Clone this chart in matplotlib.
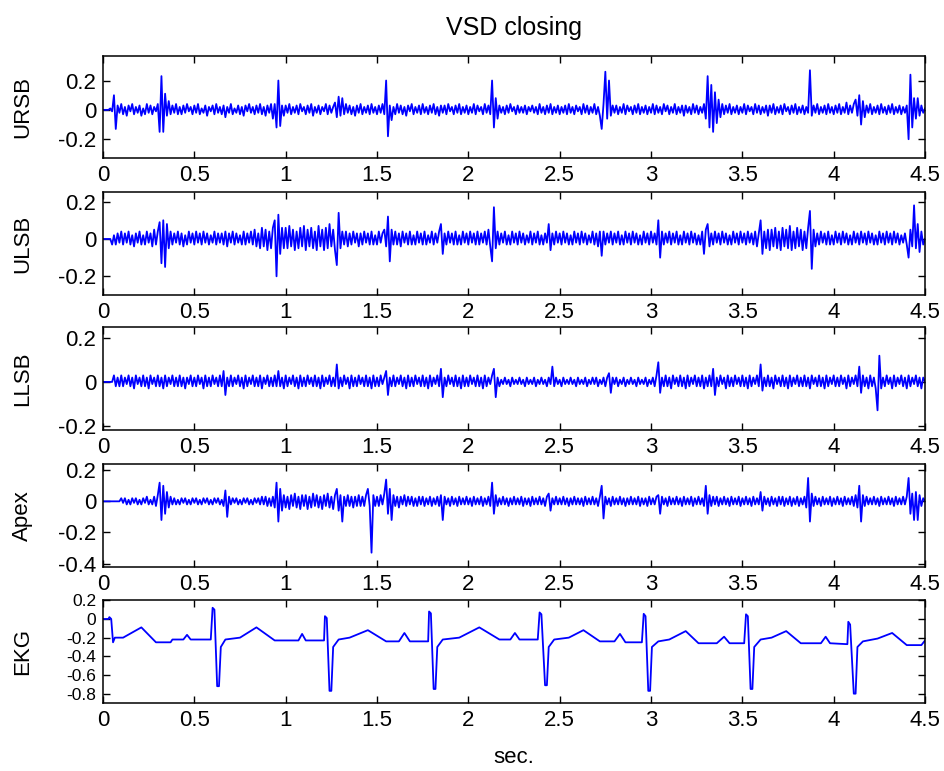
import numpy as np
import matplotlib
matplotlib.use("Agg")
import matplotlib.pyplot as plt
from matplotlib.ticker import FuncFormatter

plt.rcParams['font.family'] = ['Liberation Sans', 'DejaVu Sans']
plt.rcParams['axes.unicode_minus'] = False

# Heart-sound channels, one stored sample every 10 ms (values in hundredths)
SAMPLE_STEP = 0.01

ursb_centi = [
    0, 0, 0, 0, 1, -1, 10, -13, 3, -2, 4, -3, 2, -4, 3, -1, 4, -3, 2, -2, 3, -4, 1, -3, 4, -2, 3, -3, 2, -1, 4, -15, 23, -15, 11, -4, 6, -3, 3, -2, 4, -3, 2, -3, 3, -2, 4, -1, 2, -3,
    3, -2, 4, -3, 1, -2, 3, -4, 2, -1, 3, -3, 4, -2, 2, -3, 3, -5, 2, -2, 4, -3, 1, -2, 3, -3, 2, -4, 3, -1, 4, -2, 2, -3, 3, -2, 4, -3, 2, -4, 3, -2, 4, -6, 4, -12, 20, -11, 3, -4,
    3, -2, 4, -3, 2, -2, 3, -3, 4, -1, 2, -3, 3, -2, 4, -4, 2, -2, 3, -3, 2, -1, 4, -3, 3, -2, 2, 5, -5, 9, -4, 8, -3, 4, -2, 3, -3, 2, -4, 3, -2, 4, -3, 2, -2, 3, -3, 4, -2, 2,
    -3, 3, -2, 4, -3, 20, -18, 3, -7, 2, -3, 4, -2, 3, -3, 2, -4, 3, -1, 4, -3, 2, -2, 3, -3, 4, -2, 2, -3, 3, -2, 4, -3, 2, -4, 3, -2, 3, -3, 4, -1, 2, -3, 3, -2, 4, -3, 2, -2, 3,
    -3, 2, -2, 4, -3, 3, -1, 2, -3, 4, -2, 3, -3, 20, -12, 8, -6, 3, -2, 2, -3, 3, -2, 4, -1, 2, -3, 3, -2, 2, -2, 3, -3, 2, -1, 3, -2, 2, -3, 4, -2, 2, -3, 3, -2, 4, -3, 2, -2, 3,
    -3, 2, -2, 3, -3, 4, -2, 2, -3, 3, -1, 2, -3, 4, -2, 3, -3, 2, -2, 4, -3, 2, -4, -13, 4, 26, -6, 20, -4, 3, -2, 3, -3, 2, -2, 4, -3, 3, -1, 2, -3, 3, -2, 4, -3, 2, -2, 3, -3, 2,
    -2, 4, -3, 3, -2, 2, -3, 4, -1, 3, -3, 2, -2, 4, -3, 2, -2, 3, -4, 3, -2, 2, -3, 4, -2, 3, -3, 2, -2, 4, -6, 23, -12, 17, -15, 12, -9, 7, -5, 4, -3, 3, -2, 4, -3, 2, -2, 3, -3, 2,
    -2, 4, -3, 3, -1, 2, -3, 4, -2, 3, -3, 2, -2, 3, -4, 3, -2, 4, -3, 2, -2, 3, -3, 4, -1, 2, -3, 3, -2, 4, -3, 2, -2, 3, -3, 2, -2, 27, -4, 3, -2, 4, -3, 2, -2, 3, -3, 4, -2, 2,
    -3, 3, -2, 4, -3, 2, -2, 5, -3, 3, -2, 4, 7, -4, 10, -10, 6, -5, 3, -2, 4, -3, 2, -2, 3, -3, 4, -2, 2, -3, 3, -2, 4, -3, 2, -2, 3, -3, 2, -2, 3, -20, 24, -12, 8, -6, 8, -4, 3, -2,
    1,
]

ulsb_centi = [
    0, 0, 0, 0, 0, -3, 2, -3, 3, -2, 4, -3, 3, -2, 4, -3, 2, -4, 3, -2, 4, -3, 2, -3, 4, -2, 3, -4, 5, -3, 4, 9, -13, 10, -15, 8, -5, 4, -3, 3, -2, 4, -3, 3, -4, 2, -3, 4, -2, 3,
    -3, 4, -2, 3, -3, 4, -2, 3, -3, 2, -2, 4, -3, 3, -2, 3, -3, 4, -4, 3, -2, 4, -3, 3, -2, 2, -3, 4, -3, 3, -2, 4, -3, 5, -4, 3, -5, 6, -4, 5, -6, 4, -5, 6, 10, -20, 13, -8, 6, -5,
    6, -5, 7, -4, 5, -6, 4, -5, 6, -4, 7, -6, 5, -4, 6, -5, 4, -6, 7, -4, 5, -6, 6, -5, 8, -4, 5, -6, -14, 14, -5, 4, -3, 4, -4, 3, -3, 4, -2, 3, -4, 3, -3, 4, -2, 3, -3, 4, -3, 2,
    -3, 4, -2, 3, 5, -4, 12, -12, 5, -3, 4, -3, 3, -4, 4, -2, 3, -3, 4, -3, 2, -3, 4, -2, 3, -3, 4, -3, 2, -2, 4, -3, 3, -2, 4, 8, -8, 3, -3, 4, -2, 3, -3, 4, -3, 2, -3, 4, -2, 3,
    -3, 4, -2, 3, -3, 4, -3, 3, -2, 4, -3, 5, -4, -12, 17, -5, 4, -3, 3, -2, 4, -3, 2, -3, 4, -2, 3, -3, 4, -2, 3, -3, 2, -2, 4, -3, 3, -2, 4, -3, 2, -3, 3, -2, 8, -6, 3, -3, 4, -2,
    3, -3, 4, -2, 3, -3, 2, -3, 4, -2, 3, -3, 4, -2, 3, -3, 2, -2, 4, -3, 3, -4, 4, -9, 4, -3, 3, -2, 4, -3, 3, -2, 4, -3, 2, -3, 4, -2, 3, -3, 4, -2, 3, -3, 2, -3, 4, -2, 3, -3,
    4, -2, 3, -3, 10, -10, 4, -3, 3, -2, 4, -3, 3, -2, 4, -3, 2, -3, 4, -2, 3, -3, 4, -2, 3, -3, 2, -3, 4, -8, 5, 8, -4, 3, -3, 4, -2, 3, -3, 4, -2, 3, -3, 2, -3, 4, -2, 3, -3, 4,
    -2, 3, -3, 4, -2, 3, -3, 4, -4, 3, 10, -8, 4, -5, 5, -6, 5, -4, 6, -5, 4, -6, 6, -4, 5, -5, 7, -6, 4, -5, 6, -4, 5, -6, 4, -5, 6, 15, -16, 5, -4, 3, -3, 4, -2, 3, -3, 4, -3, 2,
    -3, 4, -2, 3, -3, 4, -2, 3, -3, 2, -3, 4, -2, 3, -3, 4, -2, 3, -3, 4, -2, 3, -3, 2, -3, 4, -2, 3, -3, 4, -2, 3, -3, 4, -2, 3, -3, 2, -2, 3, -3, -10, 5, -4, 18, -5, 8, -7, 4, -3,
    0,
]

llsb_centi = [
    0, 0, 0, 0, 0, 0, 3, -2, 2, -2, 3, -2, 2, -1, 3, -2, 2, -3, 3, -1, 2, -2, 3, -2, 2, -3, 3, -1, 2, -2, 3, -2, 2, -3, 3, -2, 2, -1, 3, -2, 2, -2, 3, -2, 2, -3, 2, -1, 3, -2,
    2, -2, 3, -1, 2, -3, 3, -2, 2, -2, 3, -1, 2, -2, 3, -2, 5, -6, 2, -2, 3, -2, 2, -1, 3, -2, 2, -3, 3, -2, 2, -1, 3, -2, 2, -2, 3, -3, 2, -1, 3, -2, 2, -2, 3, -2, 5, -2, 2, -3,
    3, -2, 2, -1, 3, -2, 2, -3, 3, -2, 2, -2, 3, -1, 2, -2, 3, -2, 2, -3, 3, -2, 2, -1, 3, -2, 2, -2, 8, -3, 2, -2, 3, -1, 2, -3, 3, -2, 2, -2, 3, -1, 2, -2, 3, -2, 2, -3, 3, -2,
    2, -2, 3, -1, 2, 5, -6, 2, -2, 3, -2, 2, -1, 3, -2, 2, -3, 3, -2, 2, -2, 3, -1, 2, -2, 3, -2, 2, -3, 3, -2, 2, -1, 3, -2, 6, -7, 2, -2, 3, -1, 2, -2, 3, -2, 2, -3, 3, -2, 2,
    -2, 3, -1, 2, -2, 3, -2, 2, -3, 3, -2, 2, -1, 3, 6, -7, 2, -2, 1, -1, 2, -1, 1, -2, 2, -1, 1, -1, 2, -1, 1, -2, 2, -1, 1, -1, 2, -2, 1, -1, 2, -1, 1, -2, 2, -1, 7, -2, 2, -1,
    1, -2, 2, -1, 1, -1, 2, -1, 1, -2, 2, -1, 1, -1, 2, -2, 1, -1, 2, -1, 2, -2, 1, -1, 2, -2, 2, 4, -5, 2, -1, 2, -2, 1, -1, 2, -2, 1, -1, 2, -1, 1, -2, 2, -1, 1, -1, 2, -2, 1,
    -1, 2, -2, 3, 9, -5, 2, -2, 3, -2, 2, -3, 3, -1, 2, -2, 3, -2, 2, -3, 3, -2, 2, -1, 3, -2, 2, -2, 3, -3, 2, -2, 3, -2, 6, -6, 2, -2, 3, -1, 2, -3, 3, -2, 2, -2, 3, -1, 2, -2,
    3, -2, 2, -3, 3, -2, 2, -1, 3, -2, 8, -4, 2, -2, 3, -2, 2, -3, 3, -1, 2, -2, 3, -2, 2, -3, 3, -2, 2, -1, 3, -2, 2, -2, 3, -2, 2, -3, 3, -1, 2, -2, 3, -2, 2, -3, 3, -2, 2, -1,
    3, -2, 2, -2, 3, -1, 2, -3, 3, -2, 2, -1, 3, -2, 7, -5, 3, -2, 2, -3, 3, -2, 2, -3, -13, 12, -3, 2, -2, 3, -1, 2, -3, 3, -2, 2, -1, 3, -2, 2, -3, 3, -2, 2, -1, 3, -2, 2, -3, 2,
    0,
]

apex_centi = [
    0, 0, 0, 0, 0, 0, 0, 0, 0, 0, 2, -1, 2, -2, 1, -2, 2, -1, 2, -2, 1, -2, 2, -1, 3, -2, 1, -2, 3, -3, 4, 12, -12, 10, -8, 6, -4, 3, -2, 2, -2, 1, -2, 2, -1, 2, -2, 1, -2, 2,
    -1, 2, -2, 1, -2, 2, -1, 2, -2, 1, -2, 2, -1, 2, -2, 1, -3, 7, -10, 3, -2, 2, -1, 2, -2, 1, -2, 2, -1, 2, -2, 1, -2, 2, -1, 2, -2, 3, -2, 3, -3, 2, -3, 3, -4, 12, -13, 8, -6, 4,
    -4, 3, -5, 4, -3, 5, -4, 3, -5, 4, -3, 4, -5, 3, -4, 5, -3, 4, -4, 3, -5, 4, -3, 5, -4, 3, -5, 4, 8, -6, 4, -13, 3, -3, 4, -3, 3, -4, 3, -3, 4, -3, 3, -3, 4, 8, -3, -33, 4, -3,
    3, -3, 4, -2, 5, 14, -8, 8, -12, 4, -3, 3, -4, 3, -2, 4, -3, 3, -2, 3, -3, 2, -3, 3, -2, 3, -3, 2, -2, 3, -3, 2, -2, 3, -3, 4, -12, 3, -2, 2, -3, 3, -2, 2, -3, 3, -2, 2, -2, 3,
    -2, 2, -3, 3, -2, 2, -2, 3, -3, 2, -2, 3, -3, 12, -8, 4, -3, 2, -2, 3, -2, 2, -3, 2, -2, 3, -2, 2, -2, 3, -3, 2, -2, 2, -3, 3, -2, 2, -2, 3, -2, 2, -3, 3, 5, -6, 2, -2, 3, -2,
    2, -2, 3, -2, 2, -3, 2, -2, 3, -2, 2, -2, 2, -3, 3, -2, 2, -2, 3, -2, 2, -3, 3, 10, -11, 3, -2, 2, -3, 3, -2, 2, -2, 3, -2, 2, -3, 2, -2, 3, -2, 2, -2, 3, -3, 2, -2, 2, -3, 3,
    -2, 2, -2, 3, 4, -8, 3, -2, 2, -3, 3, -2, 2, -2, 3, -2, 2, -3, 3, -2, 2, -2, 3, -3, 2, -2, 3, -2, 2, -3, 10, -8, 4, -3, 3, -2, 3, -3, 2, -2, 3, -2, 2, -3, 3, -2, 2, -2, 3, -3,
    2, -2, 3, -2, 2, -3, 3, -2, 2, -2, 6, -6, 3, -2, 2, -3, 3, -2, 2, -3, 3, -2, 3, -3, 2, -2, 3, -3, 2, -2, 3, -3, 2, -2, 3, -4, 15, -13, 5, -3, 3, -2, 2, -3, 3, -2, 2, -2, 3, -3,
    2, -2, 3, -2, 2, -3, 3, -2, 2, -2, 3, -3, 4, -4, 10, -13, 4, -3, 3, -2, 2, -2, 3, -2, 2, -3, 3, -2, 2, -2, 3, -2, 2, -3, 3, -2, 2, -2, 3, -2, 3, 15, -8, 5, -12, 6, -12, 4, -3, 2,
    0,
]

# EKG trace: time (s) and amplitude at each vertex of the recorded waveform
ekg_t = [
    0.0, 0.03, 0.035, 0.045, 0.055, 0.065, 0.11, 0.21, 0.29, 0.37, 0.38, 0.44, 0.46, 0.48, 0.59,
    0.60, 0.61, 0.625, 0.635, 0.645, 0.67, 0.75, 0.84, 0.94, 1.07, 1.09, 1.11, 1.21,
    1.215, 1.225, 1.24, 1.25, 1.26, 1.29, 1.35, 1.45, 1.55, 1.62, 1.65, 1.68, 1.78,
    1.785, 1.795, 1.81, 1.82, 1.83, 1.86, 1.95, 2.06, 2.17, 2.23, 2.255, 2.28, 2.38,
    2.39, 2.40, 2.42, 2.43, 2.44, 2.47, 2.55, 2.63, 2.72, 2.80, 2.83, 2.86, 2.95,
    2.96, 2.97, 2.985, 2.995, 3.005, 3.04, 3.10, 3.19, 3.26, 3.36, 3.40, 3.43, 3.51,
    3.52, 3.53, 3.545, 3.555, 3.565, 3.60, 3.66, 3.74, 3.82, 3.93, 3.956, 3.98, 4.075,
    4.08, 4.09, 4.11, 4.12, 4.13, 4.16, 4.24, 4.32, 4.40, 4.48, 4.50,
]
ekg_v = [
    0.0, 0.0, 0.02, 0.0, -0.25, -0.2, -0.2, -0.09, -0.25, -0.25, -0.22, -0.22, -0.17, -0.22, -0.22,
    0.12, 0.10, -0.72, -0.72, -0.30, -0.22, -0.20, -0.09, -0.23, -0.23, -0.16, -0.23, -0.23,
    0.03, 0.01, -0.77, -0.77, -0.30, -0.22, -0.20, -0.12, -0.24, -0.24, -0.15, -0.24, -0.24,
    0.08, 0.06, -0.75, -0.75, -0.30, -0.22, -0.20, -0.09, -0.22, -0.22, -0.15, -0.22, -0.22,
    0.07, 0.05, -0.71, -0.71, -0.30, -0.22, -0.20, -0.12, -0.24, -0.24, -0.16, -0.25, -0.25,
    0.055, 0.03, -0.77, -0.77, -0.30, -0.24, -0.22, -0.13, -0.26, -0.26, -0.19, -0.26, -0.26,
    0.05, 0.03, -0.75, -0.75, -0.30, -0.22, -0.20, -0.13, -0.26, -0.26, -0.19, -0.26, -0.27,
    -0.03, -0.06, -0.80, -0.80, -0.30, -0.24, -0.21, -0.15, -0.28, -0.28, -0.23,
]

channel_names = ["URSB", "ULSB", "LLSB", "Apex", "EKG"]
x_ticks = [0, 0.5, 1, 1.5, 2, 2.5, 3, 3.5, 4, 4.5]


def centi_series(values):
    v = np.asarray(values, dtype=float) / 100.0
    t = np.arange(len(v)) * SAMPLE_STEP
    return t, v


series = [centi_series(ursb_centi), centi_series(ulsb_centi),
          centi_series(llsb_centi), centi_series(apex_centi),
          (np.asarray(ekg_t), np.asarray(ekg_v))]

y_limits = [(-0.33, 0.37), (-0.30, 0.25), (-0.22, 0.25), (-0.42, 0.24), (-0.90, 0.20)]
y_ticks = [[-0.2, 0, 0.2], [-0.2, 0, 0.2], [-0.2, 0, 0.2],
           [-0.4, -0.2, 0, 0.2], [-0.8, -0.6, -0.4, -0.2, 0, 0.2]]
# the EKG scale has six closely spaced ticks, so its labels are set smaller
y_label_sizes = [16, 16, 16, 16, 12.5]

fig = plt.figure(figsize=(9.44, 7.71), dpi=100)
left, width, height = 0.1091, 0.8708, 0.1332
bottoms = [0.7947, 0.6174, 0.4423, 0.2650, 0.0882]

fmt = FuncFormatter(lambda v, pos: ("%g" % round(v, 2)))

for name, (t, v), yl, yt, ysz, b in zip(channel_names, series, y_limits, y_ticks,
                                         y_label_sizes, bottoms):
    ax = fig.add_axes([left, b, width, height])
    ax.plot(t, v, color="#0000ff", lw=1.3)
    ax.set_xlim(0, 4.5)
    ax.set_ylim(*yl)
    ax.set_xticks(x_ticks)
    ax.set_yticks(yt)
    ax.xaxis.set_major_formatter(fmt)
    ax.yaxis.set_major_formatter(fmt)
    ax.tick_params(direction="in", top=True, right=True, length=5, width=1, pad=5)
    ax.tick_params(axis="x", labelsize=16)
    ax.tick_params(axis="y", labelsize=ysz)
    for sp in ax.spines.values():
        sp.set_linewidth(1.1)
    ax.set_ylabel(name, fontsize=16)
    ax.yaxis.set_label_coords(-0.085, 0.5)

fig.text(0.5445, 0.9637, "VSD closing", ha="center", va="center", fontsize=18)
fig.text(0.5445, 0.018, "sec.", ha="center", va="center", fontsize=16)

fig.savefig("out.png", dpi=100)
